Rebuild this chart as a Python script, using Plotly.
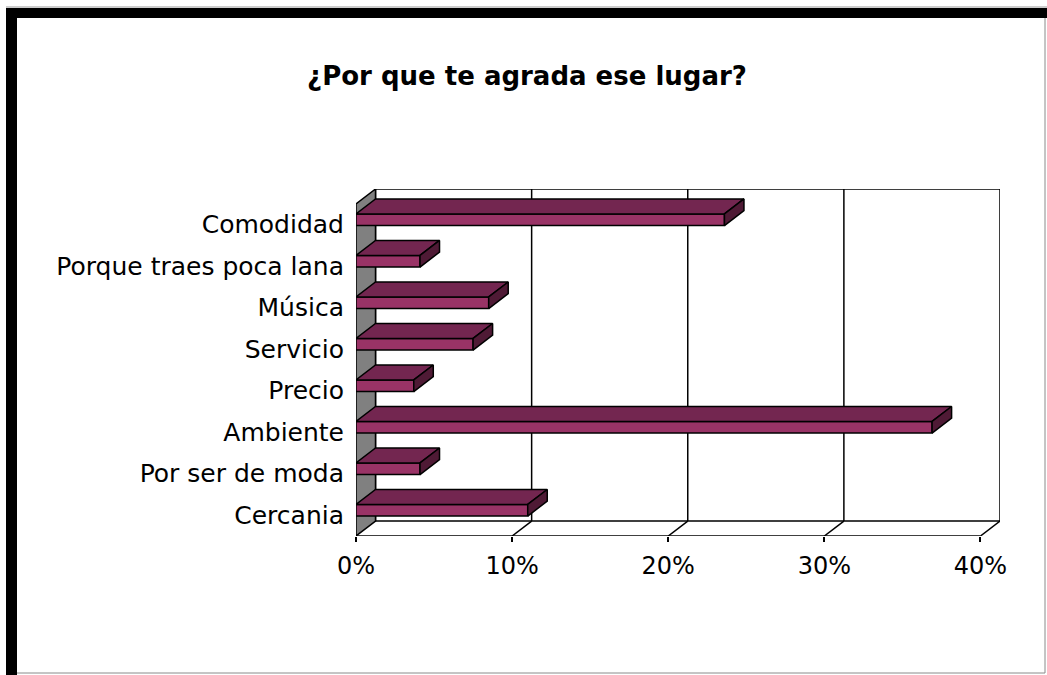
import plotly.graph_objects as go

# Survey answers, listed top to bottom as they appear on the chart
categories = [
    "Comodidad",
    "Porque traes poca lana",
    "Música",
    "Servicio",
    "Precio",
    "Ambiente",
    "Por ser de moda",
    "Cercania",
]
percent = [23.6, 4.1, 8.5, 7.5, 3.7, 36.9, 4.1, 11.0]

x_ticks = [0, 10, 20, 30, 40]
x_tick_text = ["0%", "10%", "20%", "30%", "40%"]

# Pseudo-3D geometry (data units): depth shift along x (%) and along y (slots)
DX = 1.25
DY = 0.36
BAR_LOW = -0.02   # front face bottom, relative to the slot centre
BAR_HIGH = 0.26   # front face top, relative to the slot centre

FRONT = "#993366"
TOP = "#732650"
SIDE = "#4f1a35"
WALL = "#808080"
EDGE = 1.5

# Figure geometry in pixels
W, H = 1047, 675
L, R, T, B = 356, 47, 189, 139
PW, PH = W - L - R, H - T - B

n = len(categories)
slots = [n - 1 - i for i in range(n)]          # Comodidad at the top
x_max = max(x_ticks)
y_lo, y_hi = -0.5, n - 0.5


def px(x):
    return (x - L) / PW


def py(y):
    return (H - B - y) / PH


fig = go.Figure()

# Front faces of the bars
fig.add_trace(go.Bar(
    x=percent,
    y=[s + (BAR_LOW + BAR_HIGH) / 2 for s in slots],
    width=BAR_HIGH - BAR_LOW,
    base=0,
    orientation="h",
    marker=dict(color=FRONT, line=dict(color="black", width=EDGE)),
    hoverinfo="skip",
    showlegend=False,
))

# Top and right-hand faces, built from the same values
top_x, top_y, side_x, side_y = [], [], [], []
for s, v in zip(slots, percent):
    y0, y1 = s + BAR_LOW, s + BAR_HIGH
    top_x += [0, v, v + DX, DX, 0, None]
    top_y += [y1, y1, y1 + DY, y1 + DY, y1, None]
    side_x += [v, v, v + DX, v + DX, v, None]
    side_y += [y0, y1, y1 + DY, y0 + DY, y0, None]

fig.add_trace(go.Scatter(
    x=top_x, y=top_y, mode="lines", fill="toself", fillcolor=TOP,
    line=dict(color="black", width=EDGE), hoverinfo="skip", showlegend=False,
))
fig.add_trace(go.Scatter(
    x=side_x, y=side_y, mode="lines", fill="toself", fillcolor=SIDE,
    line=dict(color="black", width=EDGE), hoverinfo="skip", showlegend=False,
))

shapes = []
# Back wall
shapes.append(dict(type="rect", xref="x", yref="y", layer="below",
                   x0=DX, x1=x_max + DX, y0=y_lo + DY, y1=y_hi + DY,
                   line=dict(color="black", width=EDGE), fillcolor="white"))
# Gridlines on the back wall
for t in x_ticks[1:-1]:
    shapes.append(dict(type="line", xref="x", yref="y", layer="below",
                       x0=t + DX, x1=t + DX, y0=y_lo + DY, y1=y_hi + DY,
                       line=dict(color="black", width=EDGE)))
# Floor outline with its depth lines at each tick
shapes.append(dict(type="line", xref="x", yref="y", layer="below",
                   x0=0, x1=x_max, y0=y_lo, y1=y_lo,
                   line=dict(color="black", width=EDGE)))
for t in x_ticks[1:]:
    shapes.append(dict(type="line", xref="x", yref="y", layer="below",
                       x0=t, x1=t + DX, y0=y_lo, y1=y_lo + DY,
                       line=dict(color="black", width=EDGE)))
# Grey side wall
shapes.append(dict(type="path", xref="x", yref="y", layer="below",
                   path=f"M 0 {y_lo} L {DX} {y_lo + DY} L {DX} {y_hi + DY} L 0 {y_hi} Z",
                   fillcolor=WALL, line=dict(color="black", width=EDGE)))

# Outer frame: heavy black top/left edges, thin grey right/bottom edges
shapes.append(dict(type="rect", xref="paper", yref="paper", layer="above",
                   x0=px(6), x1=px(W), y0=py(8), y1=py(18),
                   fillcolor="black", line=dict(width=0)))
shapes.append(dict(type="rect", xref="paper", yref="paper", layer="above",
                   x0=px(6), x1=px(17), y0=py(8), y1=py(H),
                   fillcolor="black", line=dict(width=0)))
shapes.append(dict(type="line", xref="paper", yref="paper", layer="above",
                   x0=px(6), x1=px(W), y0=py(7), y1=py(7),
                   line=dict(color="#9a9a9a", width=1)))
shapes.append(dict(type="line", xref="paper", yref="paper", layer="above",
                   x0=px(1045), x1=px(1045), y0=py(18), y1=py(673),
                   line=dict(color="#8a8a8a", width=1)))
shapes.append(dict(type="line", xref="paper", yref="paper", layer="above",
                   x0=px(17), x1=px(1045), y0=py(673), y1=py(673),
                   line=dict(color="#8a8a8a", width=1)))

fig.update_layout(
    width=W, height=H,
    margin=dict(l=L, r=R, t=T, b=B, pad=0),
    paper_bgcolor="white",
    plot_bgcolor="rgba(0,0,0,0)",
    shapes=shapes,
    title=dict(
        text="¿Por que te agrada ese lugar?",
        x=527 / W, xanchor="center",
        y=1 - 76 / H, yanchor="middle",
        font=dict(family="DejaVu Sans", size=26, color="black", weight="bold"),
    ),
    xaxis=dict(
        range=[0, x_max + DX],
        tickvals=x_ticks, ticktext=x_tick_text,
        ticks="outside", ticklen=5, tickcolor="black", tickwidth=1.5,
        showgrid=False, zeroline=False, showline=False,
        ticklabelstandoff=3,
        tickfont=dict(family="DejaVu Sans", size=24, color="black"),
        fixedrange=True,
    ),
    yaxis=dict(
        range=[y_lo, y_hi + DY],
        tickvals=slots, ticktext=categories,
        ticks="", showgrid=False, zeroline=False, showline=False,
        ticklabelstandoff=11,
        tickfont=dict(family="DejaVu Sans", size=25, color="black"),
        fixedrange=True,
    ),
)

fig.write_html("out.html")
